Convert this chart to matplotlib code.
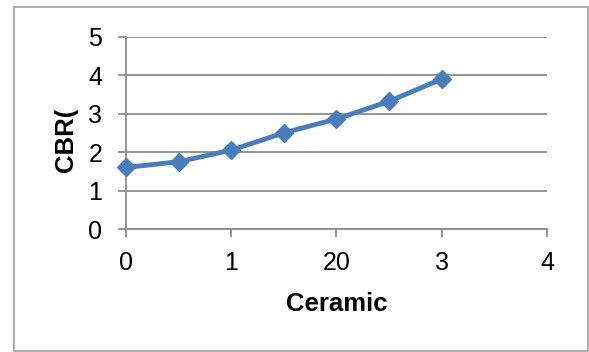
import matplotlib.pyplot as plt
from matplotlib.patches import Rectangle

plt.rcParams['font.family'] = ['Liberation Sans', 'DejaVu Sans']

# Ceramic content and measured CBR values
ceramic = [0, 0.5, 1, 1.5, 2, 2.5, 3]
cbr = [1.60, 1.75, 2.05, 2.50, 2.86, 3.32, 3.90]

x_ticks = [0, 1, 2, 3, 4]
x_tick_labels = ['0', '1', '20', '3', '4']
y_ticks = [0, 1, 2, 3, 4, 5]

fig = plt.figure(figsize=(5.89, 3.52), dpi=100)
ax = fig.add_axes([0.2139, 0.3494, 0.7148, 0.5463])

# outer chart frame
fig.patches.append(Rectangle((14 / 589, 1 / 352), 574 / 589, 344 / 352,
                             transform=fig.transFigure, fill=False,
                             edgecolor='#a0a0a0', linewidth=1.2))

ax.plot(ceramic, cbr, color='#4a7ebb', linewidth=3.5, marker='D',
        markersize=9, markerfacecolor='#4a7ebb', markeredgecolor='#4a7ebb',
        zorder=3, clip_on=False)

ax.set_xlim(0, 4)
ax.set_ylim(0, 5)
ax.set_xticks(x_ticks)
ax.set_xticklabels(x_tick_labels)
ax.set_yticks(y_ticks)

ax.grid(axis='y', color='#8c8c8c', linewidth=1.3)
ax.set_axisbelow(True)
for side in ['top', 'right']:
    ax.spines[side].set_visible(False)
for side in ['left', 'bottom']:
    ax.spines[side].set_color('#8c8c8c')
    ax.spines[side].set_linewidth(1.3)

ax.tick_params(axis='both', colors='#8c8c8c', labelcolor='black',
               labelsize=18, length=6, width=1.3)
ax.tick_params(axis='y', pad=11)
ax.tick_params(axis='x', pad=10)

fig.text(337 / 589, 1 - 304 / 352, 'Ceramic', ha='center', va='center',
         fontsize=18.5, fontweight='bold')
fig.text(66 / 589, 1 - 140 / 352, 'CBR(', ha='center', va='center',
         rotation=90, fontsize=18.5, fontweight='bold')

fig.savefig('out.png', dpi=100)
